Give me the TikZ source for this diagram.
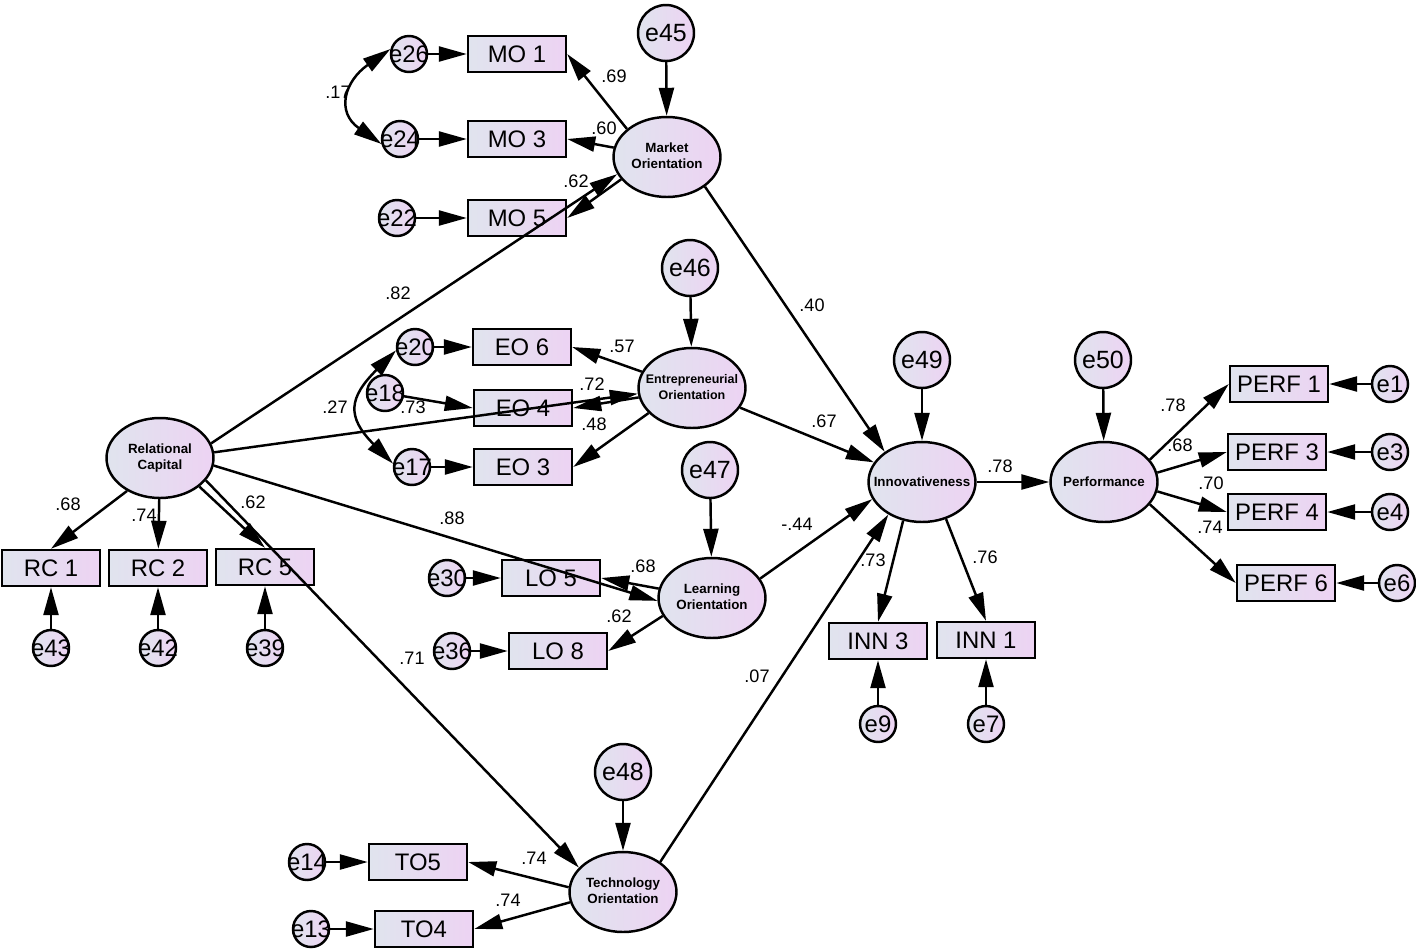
\documentclass[tikz,border=0pt]{standalone}
\usepackage{fontspec}
\setmainfont{Liberation Sans}
\usetikzlibrary{shapes.geometric,arrows.meta}
\definecolor{fillL}{RGB}{224,228,238}
\definecolor{fillR}{RGB}{237,211,243}
\newcommand{\zw}[1]{\makebox[0pt]{#1}}
\newcommand{\two}[2]{\makebox[0pt]{\begin{tabular}{@{}c@{}}#1\\#2\end{tabular}}}
\begin{document}
\begin{tikzpicture}[x=0.02cm,y=0.02cm,line width=1.4pt,
    obs/.style={draw,rectangle,minimum width=1.96cm,minimum height=0.72cm,inner sep=0,left color=fillL,right color=fillR,font=\fontsize{13.6}{15}\selectfont},
    lat/.style={draw,ellipse,minimum width=2.14cm,minimum height=1.6cm,inner sep=0,left color=fillL,right color=fillR,font=\bfseries\fontsize{7.6}{9.2}\selectfont},
    err/.style={draw,circle,minimum size=0.72cm,inner sep=0,left color=fillL,right color=fillR,font=\fontsize{13.6}{15}\selectfont},
    res/.style={err,minimum size=1.12cm,font=\fontsize{14.2}{16}\selectfont},
    coef/.style={inner sep=0,font=\fontsize{10.3}{12}\selectfont},
    arr/.style={-{Triangle[length=0.56cm,width=0.3cm]}},
    cov/.style={{Triangle[length=0.56cm,width=0.3cm]}-{Triangle[length=0.56cm,width=0.3cm]}}]
    \useasboundingbox (0,0) rectangle (1416,-951);
    \node[res] (e45) at (666,-33) {e45};
    \node[lat] (MO) at (667,-157) {\two{Market}{Orientation}};
    \node[obs] (MO1) at (517,-54) {MO 1};
    \node[obs] (MO3) at (517,-139) {MO 3};
    \node[obs] (MO5) at (517,-218) {MO 5};
    \node[err] (e26) at (409,-54) {\zw{e26}};
    \node[err] (e24) at (400,-139) {\zw{e24}};
    \node[err] (e22) at (397,-218) {\zw{e22}};
    \node[res] (e46) at (690,-268) {e46};
    \node[lat,font=\bfseries\fontsize{7.1}{9.2}\selectfont] (EO) at (692,-388) {\two{Entrepreneurial}{Orientation}};
    \node[obs] (EO6) at (522,-347) {EO 6};
    \node[obs] (EO4) at (523,-408) {EO 4};
    \node[obs] (EO3) at (523,-467) {EO 3};
    \node[err] (e20) at (415,-347) {\zw{e20}};
    \node[err] (e18) at (385,-393) {\zw{e18}};
    \node[err] (e17) at (412,-467) {\zw{e17}};
    \node[lat] (RC) at (160,-458) {\two{Relational}{Capital}};
    \node[obs] (RC1) at (51,-568) {RC 1};
    \node[obs] (RC2) at (158,-568) {RC 2};
    \node[obs] (RC5) at (265,-567) {RC 5};
    \node[err] (e43) at (51,-648) {\zw{e43}};
    \node[err] (e42) at (158,-648) {\zw{e42}};
    \node[err] (e39) at (265,-648) {\zw{e39}};
    \node[res] (e47) at (710,-470) {e47};
    \node[lat] (LO) at (712,-598) {\two{Learning}{Orientation}};
    \node[obs] (LO5) at (551,-578) {LO 5};
    \node[obs] (LO8) at (558,-651) {LO 8};
    \node[err] (e30) at (447,-578) {\zw{e30}};
    \node[err] (e36) at (452,-651) {\zw{e36}};
    \node[res] (e48) at (623,-772) {e48};
    \node[lat] (TO) at (623,-892) {\two{Technology}{Orientation}};
    \node[obs] (TO5) at (418,-862) {TO5};
    \node[obs] (TO4) at (424,-929) {TO4};
    \node[err] (e14) at (307,-862) {\zw{e14}};
    \node[err] (e13) at (311,-929) {\zw{e13}};
    \node[res] (e49) at (922,-360) {e49};
    \node[lat] (INN) at (922,-482) {\zw{Innovativeness}};
    \node[obs] (INN3) at (878,-641) {INN 3};
    \node[obs] (INN1) at (986,-640) {INN 1};
    \node[err] (e9) at (878,-724) {\zw{e9}};
    \node[err] (e7) at (986,-724) {\zw{e7}};
    \node[res] (e50) at (1103,-360) {e50};
    \node[lat] (PF) at (1104,-482) {\zw{Performance}};
    \node[obs] (PERF1) at (1279,-384) {PERF 1};
    \node[obs] (PERF3) at (1277,-452) {PERF 3};
    \node[obs] (PERF4) at (1277,-512) {PERF 4};
    \node[obs] (PERF6) at (1286,-583) {PERF 6};
    \node[err] (e1) at (1390,-384) {\zw{e1}};
    \node[err] (e3) at (1390,-452) {\zw{e3}};
    \node[err] (e4) at (1390,-512) {\zw{e4}};
    \node[err] (e6) at (1397,-583) {\zw{e6}};
    \draw[arr] (e45) -- (MO);
    \draw[arr] (MO.145) -- (MO1.east);
    \draw[arr] (MO.170) -- (MO3.east);
    \draw[arr] (MO.206) -- (MO5.east);
    \draw[arr] (e26) -- (MO1);
    \draw[arr] (e24) -- (MO3);
    \draw[arr] (e22) -- (MO5);
    \draw[cov] (e26.165) to[out=215,in=145,looseness=1.5] (e24.195);
    \draw[arr] (e46) -- (EO);
    \draw[arr] (EO.162) -- (EO6.east);
    \draw[arr] (EO.190) -- (EO4.east);
    \draw[arr] (EO.210) -- (EO3.east);
    \draw[arr] (e20) -- (EO6);
    \draw[arr] (e18) -- (EO4.west);
    \draw[arr] (e17) -- (EO3);
    \draw[cov] (e20.190) to[out=225,in=135,looseness=1.5] (e17.170);
    \draw[arr] (RC.225) -- (RC1.north);
    \draw[arr] (RC) -- (RC2);
    \draw[arr] (RC.-36) -- (RC5.north);
    \draw[arr] (e43) -- (RC1);
    \draw[arr] (e42) -- (RC2);
    \draw[arr] (e39) -- (RC5);
    \draw[arr] (RC.16) -- (MO.199);
    \draw[arr] (RC.6) -- (EO.186);
    \draw[arr] (RC.-8) -- (LO.183);
    \draw[arr] (RC.-26) -- (TO.151);
    \draw[arr] (e47) -- (LO);
    \draw[arr] (LO.170) -- (LO5.east);
    \draw[arr] (LO.200) -- (LO8.east);
    \draw[arr] (e30) -- (LO5);
    \draw[arr] (e36) -- (LO8);
    \draw[arr] (e48) -- (TO);
    \draw[arr] (TO.175) -- (TO5.east);
    \draw[arr] (TO.191) -- (TO4.east);
    \draw[arr] (e14) -- (TO5);
    \draw[arr] (e13) -- (TO4);
    \draw[arr] (MO.-38) -- (INN.141);
    \draw[arr] (EO) -- (INN);
    \draw[arr] (LO.22) -- (INN.199);
    \draw[arr] (TO.39) -- (INN.224);
    \draw[arr] (e49) -- (INN);
    \draw[arr] (INN.244) -- (INN3.north);
    \draw[arr] (INN.-57) -- (INN1.north);
    \draw[arr] (e9) -- (INN3);
    \draw[arr] (e7) -- (INN1);
    \draw[arr] (INN) -- (PF);
    \draw[arr] (e50) -- (PF);
    \draw[arr] (PF.26) -- (PERF1.west);
    \draw[arr] (PF.10) -- (PERF3.west);
    \draw[arr] (PF.-10) -- (PERF4.west);
    \draw[arr] (PF.-26) -- (PERF6.west);
    \draw[arr] (e1) -- (PERF1);
    \draw[arr] (e3) -- (PERF3);
    \draw[arr] (e4) -- (PERF4);
    \draw[arr] (e6) -- (PERF6);
    \node[coef] (c17) at (338,-92) {.17};
    \node[coef] (c69) at (614,-76) {.69};
    \node[coef] (c60) at (604,-128) {.60};
    \node[coef] (c62mo) at (576,-181) {.62};
    \node[coef] (c82) at (398,-293) {.82};
    \node[coef] (c40) at (812,-305) {.40};
    \node[coef] (c57) at (622,-346) {.57};
    \node[coef] (c72) at (592,-384) {.72};
    \node[coef] (c73eo) at (413,-407) {.73};
    \node[coef] (c27) at (335,-407) {.27};
    \node[coef] (c48) at (594,-424) {.48};
    \node[coef] (c67) at (824,-421) {.67};
    \node[coef] (c78inn) at (1000,-466) {.78};
    \node[coef] (c78pf) at (1173,-405) {.78};
    \node[coef] (c68pf) at (1180,-445) {.68};
    \node[coef] (c70pf) at (1211,-483) {.70};
    \node[coef] (c74pf) at (1210,-527) {.74};
    \node[coef] (c68rc) at (68,-504) {.68};
    \node[coef] (c74rc) at (144,-515) {.74};
    \node[coef] (c62rc) at (253,-502) {.62};
    \node[coef] (c88) at (452,-518) {.88};
    \node[coef] (c44) at (797,-524) {-.44};
    \node[coef] (c68lo) at (643,-566) {.68};
    \node[coef] (c62lo) at (619,-616) {.62};
    \node[coef] (c73inn) at (873,-560) {.73};
    \node[coef] (c76) at (985,-557) {.76};
    \node[coef] (c71) at (412,-658) {.71};
    \node[coef] (c07) at (757,-676) {.07};
    \node[coef] (c74to5) at (534,-858) {.74};
    \node[coef] (c74to4) at (508,-900) {.74};
\end{tikzpicture}
\end{document}
